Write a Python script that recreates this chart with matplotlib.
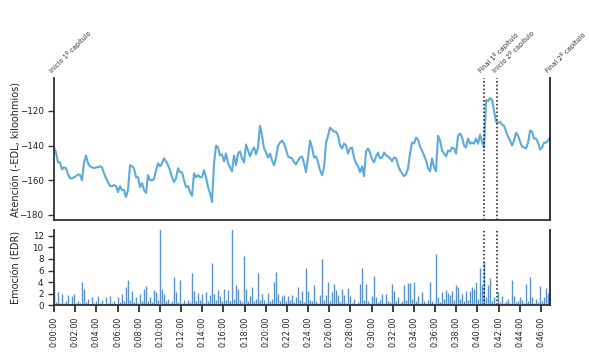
import numpy as np
import matplotlib
matplotlib.use("Agg")
import matplotlib.pyplot as plt
from matplotlib.ticker import FixedLocator

# ---------------- data ----------------
sample_step_s = 11.34  # seconds between samples

edl = [
    -141.1, -144.0, -149.7, -149.7, -153.7, -152.6, -153.1, -156.6, -158.9, -158.9,
    -158.3, -157.7, -156.6, -157.1, -160.0, -149.7, -145.7, -150.3, -152.0, -152.6,
    -153.1, -152.6, -152.6, -152.0, -152.6, -156.0, -158.9, -161.1, -163.4, -163.4,
    -162.9, -163.4, -166.9, -163.4, -165.7, -165.7, -169.7, -165.7, -151.4, -152.0,
    -153.1, -158.3, -158.3, -164.0, -161.7, -165.7, -167.4, -157.1, -160.0, -160.0,
    -159.4, -154.3, -150.3, -152.0, -150.3, -147.4, -149.1, -151.4, -154.3, -158.3,
    -161.1, -158.9, -153.1, -155.4, -155.4, -160.0, -164.0, -163.4, -166.9, -169.1,
    -156.0, -158.3, -157.1, -158.3, -158.3, -154.3, -158.3, -164.0, -167.4, -172.6,
    -150.3, -140.0, -141.1, -145.7, -145.1, -149.1, -144.6, -150.3, -152.6, -154.9,
    -145.7, -151.4, -144.6, -143.4, -147.4, -149.7, -139.4, -142.9, -146.3, -142.9,
    -141.1, -145.1, -141.1, -128.6, -134.3, -141.7, -144.0, -146.9, -144.6, -148.6,
    -151.4, -146.9, -140.0, -138.3, -137.1, -138.9, -142.3, -146.3, -146.9, -147.4,
    -149.7, -150.9, -148.6, -146.9, -146.3, -150.3, -155.4, -146.9, -137.1, -141.1,
    -146.9, -146.3, -149.7, -154.3, -157.1, -152.6, -138.3, -134.3, -129.7, -130.9,
    -132.0, -132.0, -134.3, -140.0, -141.7, -138.9, -140.0, -144.6, -141.7, -141.1,
    -146.9, -150.3, -152.0, -155.4, -152.0, -157.7, -143.4, -141.7, -144.0, -148.0,
    -149.7, -146.3, -144.0, -147.4, -146.9, -144.0, -145.7, -146.3, -147.4, -149.1,
    -146.9, -147.4, -151.4, -154.3, -156.0, -157.7, -156.6, -153.1, -144.6, -138.3,
    -138.9, -135.4, -136.6, -140.6, -142.9, -145.7, -148.6, -153.1, -154.9, -147.4,
    -152.6, -154.9, -134.3, -137.1, -142.9, -144.6, -146.3, -142.9, -143.4, -141.1,
    -141.7, -144.6, -134.3, -133.1, -135.4, -140.0, -141.1, -136.0, -138.9, -138.3,
    -138.9, -136.0, -138.9, -133.7, -137.7, -141.1, -113.7, -114.3, -112.6, -113.7,
    -120.0, -126.3, -126.9, -126.3, -128.0, -128.6, -132.0, -134.9, -137.1, -140.0,
    -137.1, -132.6, -134.3, -137.7, -140.6, -141.1, -141.7, -138.3, -131.4, -132.0,
    -136.0, -136.0, -138.3, -142.3, -141.1, -138.3, -138.3, -137.1, -135.4,
]

edr = [
    3.8, 0.6, 2.3, 0.5, 2.0, 0.4, 0.8, 1.8, 0.3, 1.7,
    1.9, 0.4, 0.7, 0.5, 4.1, 2.8, 0.6, 1.2, 0.3, 1.4,
    0.5, 0.8, 1.6, 0.4, 0.9, 0.3, 1.4, 0.5, 1.6, 0.4,
    0.7, 0.3, 1.4, 0.6, 2.0, 0.8, 3.2, 4.3, 0.9, 2.5,
    0.6, 1.4, 0.5, 2.0, 0.7, 2.8, 3.3, 0.8, 1.5, 0.6,
    2.6, 2.3, 0.9, 13.2, 2.8, 2.0, 0.7, 1.2, 0.4, 0.8,
    4.9, 2.3, 0.6, 4.3, 0.5, 0.9, 0.4, 0.9, 0.6, 5.6,
    2.5, 0.7, 2.2, 0.9, 2.0, 0.5, 2.3, 0.8, 1.8, 7.3,
    2.0, 0.9, 2.6, 1.6, 0.7, 2.9, 1.0, 2.7, 0.8, 13.2,
    1.2, 3.5, 2.9, 0.9, 0.6, 8.5, 2.8, 0.7, 1.6, 3.2,
    0.8, 1.2, 5.5, 0.9, 2.0, 1.0, 0.5, 2.2, 0.7, 1.1,
    4.0, 5.8, 2.0, 0.8, 1.6, 1.8, 0.7, 1.6, 0.9, 1.8,
    0.6, 1.4, 3.2, 0.9, 2.5, 0.6, 6.5, 2.5, 0.9, 0.7,
    3.5, 0.8, 0.5, 1.8, 7.9, 0.9, 1.8, 4.1, 0.7, 2.3,
    3.7, 2.6, 1.8, 0.6, 2.9, 1.8, 0.5, 3.0, 1.6, 0.4,
    1.2, 0.3, 0.6, 3.7, 6.5, 1.0, 3.7, 0.8, 0.5, 1.6,
    5.1, 1.5, 0.6, 0.9, 2.0, 0.5, 2.0, 0.8, 0.6, 3.7,
    2.5, 0.7, 1.4, 0.5, 0.8, 3.5, 1.0, 3.8, 3.9, 1.1,
    4.1, 0.7, 1.6, 0.5, 2.3, 0.8, 0.4, 1.0, 4.1, 0.7,
    0.5, 8.8, 1.5, 0.6, 2.3, 1.2, 2.6, 2.2, 1.8, 2.5,
    0.9, 3.5, 3.2, 1.1, 2.0, 0.8, 2.5, 1.0, 2.5, 3.2,
    2.9, 4.1, 1.2, 6.4, 3.5, 7.5, 1.5, 3.5, 4.8, 0.8,
    1.5, 0.5, 2.3, 0.6, 1.6, 0.4, 0.7, 1.2, 0.5, 4.3,
    1.6, 0.6, 0.8, 1.4, 1.0, 0.4, 3.7, 0.8, 4.9, 1.5,
    0.5, 1.2, 0.6, 3.3, 0.7, 1.5, 3.0, 2.2, 1.2,
]

marker_labels = ["Inicio 1º capítulo", "Final 1º capítulo",
                 "Inicio 2º capítulo", "Final 2º capítulo"]
marker_times_s = [0, 2437, 2511, 2812]

tick_minutes = list(range(0, 47, 2))
tick_labels = ["0:%02d:00" % m for m in tick_minutes]

edl_yticks = [-180, -160, -140, -120]
edr_yticks = [0, 2, 4, 6, 8, 10, 12]

# ---------------- plot ----------------
t_edl = np.arange(len(edl)) * sample_step_s
t_edr = np.arange(len(edr)) * sample_step_s
t_end = marker_times_s[-1]

fig = plt.figure(figsize=(5.89, 3.60), dpi=100)
ax1 = fig.add_axes([0.0917, 0.3889, 0.8421, 0.3944])
ax2 = fig.add_axes([0.0917, 0.1514, 0.8421, 0.2097])

spine_col = "#333333"
for ax in (ax1, ax2):
    ax.set_xlim(0, t_end)
    ax.spines["top"].set_visible(False)
    ax.spines["right"].set_visible(False)
    for s in ("left", "bottom"):
        ax.spines[s].set_color(spine_col)
        ax.spines[s].set_linewidth(1.3)
    ax.tick_params(axis="y", direction="out", length=4, width=1, colors=spine_col,
                   labelsize=6.3, labelcolor="#222222")

# top panel
ax1.plot(t_edl, edl, color="#5eabd8", lw=1.5)
ax1.set_ylim(-183, -101)
ax1.yaxis.set_major_locator(FixedLocator(edl_yticks))
ax1.set_xticks([])
ax1.set_ylabel("Atención (-EDL, kiloohmios)", fontsize=7, color="#222222")
ax1.yaxis.set_label_coords(-0.066, 0.5)

# bottom panel
ax2.vlines(t_edr, 0, edr, color="#3a80c4", lw=1.0, alpha=0.85)
ax2.set_ylim(0, 12.95)
ax2.yaxis.set_major_locator(FixedLocator(edr_yticks))
ax2.set_xticks([m * 60 for m in tick_minutes])
ax2.set_xticklabels(tick_labels, rotation=90, fontsize=5.8, color="#222222")
ax2.tick_params(axis="x", direction="out", length=5, width=1.3, colors=spine_col,
                labelcolor="#222222", pad=3)
ax2.set_ylabel("Emoción (EDR)", fontsize=7, color="#222222")
ax2.yaxis.set_label_coords(-0.066, 0.5)

# markers
for lab, tm in zip(marker_labels, marker_times_s):
    if tm == 0:
        pass
    elif tm == t_end:
        for ax in (ax1, ax2):
            ax.axvline(tm, color="#222222", lw=1.3, clip_on=False)
    else:
        for ax in (ax1, ax2):
            ax.axvline(tm, color="#111111", lw=1.1, ls=(0, (1, 1.5)), clip_on=False)
    ax1.annotate(lab, xy=(tm, 1.0), xycoords=("data", "axes fraction"),
                 xytext=(-1, 3), textcoords="offset points",
                 rotation=45, rotation_mode="anchor", ha="left", va="bottom",
                 fontsize=4.8, color="#333333")

fig.savefig("out.png", dpi=100)
